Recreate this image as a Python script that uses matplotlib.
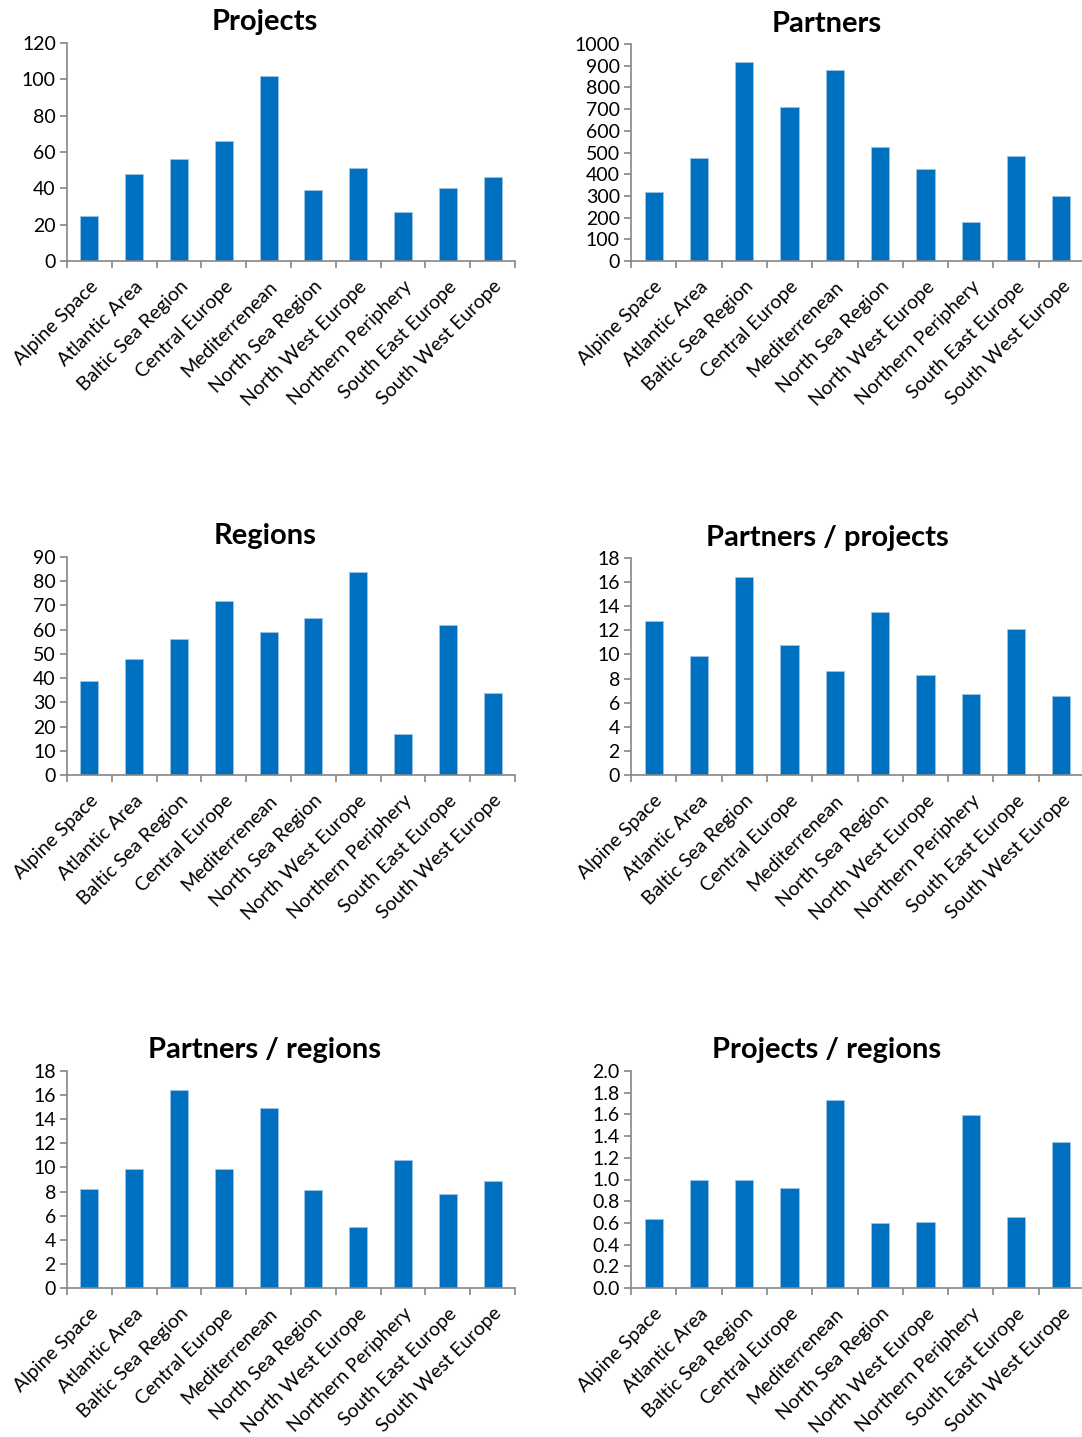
import matplotlib.pyplot as plt
import numpy as np

plt.rcParams['font.family'] = ['Lato', 'DejaVu Sans']

programmes = ['Alpine Space', 'Atlantic Area', 'Baltic Sea Region', 'Central Europe',
              'Mediterrenean', 'North Sea Region', 'North West Europe',
              'Northern Periphery', 'South East Europe', 'South West Europe']

projects = [25, 48, 56, 66, 102, 39, 51, 27, 40, 46]
partners = [320, 475, 918, 710, 882, 525, 424, 182, 484, 300]
regions = [39, 48, 56, 72, 59, 65, 84, 17, 62, 34]
partners_per_project = [12.8, 9.9, 16.4, 10.8, 8.65, 13.5, 8.3, 6.7, 12.1, 6.55]
partners_per_region = [8.2, 9.9, 16.4, 9.85, 14.95, 8.1, 5.05, 10.65, 7.8, 8.85]
projects_per_region = [0.64, 1.0, 1.0, 0.92, 1.73, 0.60, 0.61, 1.59, 0.65, 1.35]

W, H = 1082, 1437
fig = plt.figure(figsize=(W / 100, H / 100), dpi=100)

# (title, values, ymax, step, fmt, axes box in px: left, right, top, bottom, title x, title y)
panels = [
    ('Projects', projects, 120, 20, '{:.0f}', (67, 515, 43, 261), 265, 22),
    ('Partners', partners, 1000, 100, '{:.0f}', (631, 1084, 44, 261), 827, 24),
    ('Regions', regions, 90, 10, '{:.0f}', (67, 515, 557, 775), 265, 536),
    ('Partners / projects', partners_per_project, 18, 2, '{:.0f}', (631, 1084, 558, 775), 827, 538),
    ('Partners / regions', partners_per_region, 18, 2, '{:.0f}', (67, 515, 1071, 1288), 265, 1050),
    ('Projects / regions', projects_per_region, 2.0, 0.2, '{:.1f}', (631, 1084, 1071, 1288), 827, 1050),
]

blue = '#0070C0'
grey = '#868686'
x = np.arange(len(programmes))

for title, vals, ymax, step, fmt, box, tx, ty in panels:
    l, r, t, b = box
    ax = fig.add_axes([l / W, 1 - b / H, (r - l) / W, (b - t) / H])
    ax.bar(x, vals, width=0.4, color=blue, edgecolor='#9DC3E6', linewidth=0.6)
    ax.set_xlim(-0.5, len(programmes) - 0.5)
    ax.set_ylim(0, ymax)
    ticks = np.arange(0, ymax + step / 2, step)
    ax.set_yticks(ticks)
    ax.set_yticklabels([fmt.format(v) for v in ticks], fontsize=14)
    ax.set_xticks(x)
    ax.set_xticklabels(programmes, rotation=45, ha='right', rotation_mode='anchor', fontsize=14)
    ax.set_xticks(np.arange(-0.5, len(programmes), 1), minor=True)
    ax.tick_params(axis='x', which='major', length=0, pad=12)
    ax.tick_params(axis='x', which='minor', length=5, color=grey, width=1.2)
    ax.tick_params(axis='y', length=5, color=grey, width=1.2, pad=3)
    for s in ['top', 'right']:
        ax.spines[s].set_visible(False)
    for s in ['left', 'bottom']:
        ax.spines[s].set_color(grey)
        ax.spines[s].set_linewidth(1.2)
    fig.text(tx / W, 1 - ty / H, title, ha='center', va='center',
             fontsize=21, fontweight='bold')

fig.savefig('out.png', dpi=100)
